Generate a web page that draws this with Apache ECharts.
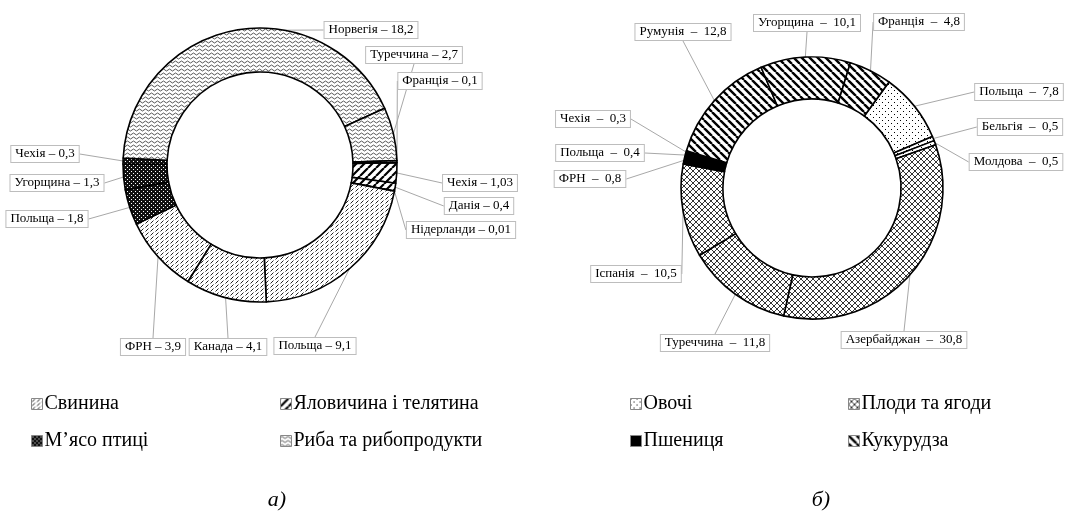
<!DOCTYPE html>
<html>
<head>
<meta charset="utf-8">
<title>Географічна структура</title>
<script src="https://cdn.jsdelivr.net/npm/echarts@6/dist/echarts.min.js"></script>
<style>
  html, body { margin: 0; padding: 0; background: #fff; }
  #chart { width: 1073px; height: 511px; }
</style>
</head>
<body>
<div id="chart"></div>
<script>
// а) м'ясо та риба, б) рослинна продукція
var countriesA = ['Чехія', 'Данія', 'Нідерланди', 'Польща', 'Канада', 'ФРН', 'Польща', 'Угорщина', 'Чехія', 'Норвегія', 'Туреччина', 'Франція'];
var valuesA = [1.03, 0.4, 0.01, 9.1, 4.1, 3.9, 1.8, 1.3, 0.3, 18.2, 2.7, 0.1];
var groupsA = ['Яловичина і телятина', 'Яловичина і телятина', 'Яловичина і телятина',
  'Свинина', 'Свинина', 'Свинина',
  'М’ясо птиці', 'М’ясо птиці', 'М’ясо птиці',
  'Риба та рибопродукти', 'Риба та рибопродукти', 'Риба та рибопродукти'];

var countriesB = ['Польща', 'Бельгія', 'Молдова', 'Азербайджан', 'Туреччина', 'Іспанія', 'ФРН', 'Польща', 'Чехія', 'Румунія', 'Угорщина', 'Франція'];
var valuesB = [7.8, 0.5, 0.5, 30.8, 11.8, 10.5, 0.8, 0.4, 0.3, 12.8, 10.1, 4.8];
var groupsB = ['Овочі', 'Овочі', 'Овочі',
  'Плоди та ягоди', 'Плоди та ягоди', 'Плоди та ягоди',
  'Пшениця', 'Пшениця', 'Пшениця',
  'Кукурудза', 'Кукурудза', 'Кукурудза'];

var legendCols = [
  ['Свинина', 'М’ясо птиці'],
  ['Яловичина і телятина', 'Риба та рибопродукти'],
  ['Овочі', 'Пшениця'],
  ['Плоди та ягоди', 'Кукурудза']
];
var captions = ['а)', 'б)'];

// положення підписів (центр рамки)
var labelPosA = [[480, 183], [479, 206], [461, 230], [315, 346], [228, 347], [153, 347],
  [47, 219], [57, 183], [45, 154], [371, 30], [414, 55], [440, 81]];
var labelPosB = [[1019, 92], [1020, 127], [1016, 162], [904, 340], [715, 343], [636, 274],
  [590, 179], [600, 153], [593, 119], [683, 32], [807, 23], [919, 22]];

// штрихування
function tile(w, h, draw) {
  var c = document.createElement('canvas');
  c.width = w; c.height = h;
  var ctx = c.getContext('2d');
  ctx.fillStyle = '#fff';
  ctx.fillRect(0, 0, w, h);
  draw(ctx, w, h);
  return { image: c, repeat: 'repeat' };
}
function diag(ctx, s, up) {
  ctx.beginPath();
  for (var k = -s; k <= s; k += s) {
    if (up) { ctx.moveTo(k, s); ctx.lineTo(k + s, 0); }
    else { ctx.moveTo(k, 0); ctx.lineTo(k + s, s); }
  }
  ctx.stroke();
}
var patterns = {
  'Свинина': tile(5, 4, function (ctx) {
    ctx.strokeStyle = '#222'; ctx.lineWidth = 1;
    ctx.beginPath(); ctx.moveTo(0.5, 3.5); ctx.lineTo(3.5, 0.5); ctx.stroke();
  }),
  'Яловичина і телятина': tile(8, 8, function (ctx) {
    ctx.strokeStyle = '#000'; ctx.lineWidth = 2.2; diag(ctx, 8, true);
  }),
  'М’ясо птиці': tile(4, 4, function (ctx) {
    ctx.fillStyle = '#111'; ctx.fillRect(0, 0, 4, 4);
    ctx.fillStyle = '#fff'; ctx.fillRect(1, 1, 1, 1); ctx.fillRect(3, 3, 1, 1);
  }),
  'Риба та рибопродукти': tile(6, 4, function (ctx) {
    ctx.strokeStyle = '#444'; ctx.lineWidth = 0.9;
    ctx.beginPath(); ctx.moveTo(0, 2);
    ctx.quadraticCurveTo(1.5, 0, 3, 2); ctx.quadraticCurveTo(4.5, 4, 6, 2);
    ctx.stroke();
  }),
  'Овочі': tile(6, 6, function (ctx) {
    ctx.fillStyle = '#000'; ctx.fillRect(0, 0, 1, 1); ctx.fillRect(3, 3, 1, 1);
  }),
  'Плоди та ягоди': tile(6, 6, function (ctx) {
    ctx.strokeStyle = '#000'; ctx.lineWidth = 0.8; diag(ctx, 6, true); diag(ctx, 6, false);
  }),
  'Пшениця': '#000',
  'Кукурудза': tile(8, 8, function (ctx) {
    ctx.strokeStyle = '#000'; ctx.lineWidth = 2.4; diag(ctx, 8, false);
  })
};

function fmt(v) { return String(v).replace('.', ','); }

function buildData(groups, values) {
  return values.map(function (v, i) {
    return { name: groups[i], value: v, itemStyle: { color: patterns[groups[i]] } };
  });
}

function donut(countries, values, groups, pos, center, radius, startAngle, sep) {
  return {
    type: 'pie',
    center: center,
    radius: radius,
    startAngle: startAngle,
    clockwise: true,
    avoidLabelOverlap: false,
    animation: false,
    silent: true,
    itemStyle: { borderColor: '#000', borderWidth: 1.6 },
    label: {
      show: true,
      position: 'outside',
      formatter: function (p) { return countries[p.dataIndex] + sep + fmt(values[p.dataIndex]); },
      fontFamily: 'Liberation Serif',
      fontSize: 13,
      color: '#000',
      backgroundColor: '#fff',
      borderColor: '#bdbdbd',
      borderWidth: 1,
      padding: [2, 4, 1, 4]
    },
    labelLine: { show: true, length: 8, length2: 0, lineStyle: { color: '#a8a8a8', width: 1 } },
    labelLayout: function (p) {
      var q = pos[p.dataIndex];
      return { x: q[0], y: q[1], align: 'center', verticalAlign: 'middle' };
    },
    data: buildData(groups, values)
  };
}

var lefts = [26, 275, 625, 843];
var myChart = echarts.init(document.getElementById('chart'));
var option = {
  backgroundColor: '#fff',
  animation: false,
  legend: legendCols.map(function (col, i) {
    return {
      left: lefts[i],
      top: 389,
      orient: 'vertical',
      data: col,
      icon: 'rect',
      itemWidth: 11,
      itemHeight: 11,
      itemGap: 17,
      selectedMode: false,
      itemStyle: { borderColor: '#888', borderWidth: 1 },
      textStyle: { fontFamily: 'Liberation Serif', fontSize: 20, color: '#000', padding: [0, 0, 0, -3] }
    };
  }),
  graphic: [
    { type: 'text', x: 277, y: 500, style: { text: captions[0], font: 'italic 22px "Liberation Serif"', fill: '#000', align: 'center', verticalAlign: 'middle' } },
    { type: 'text', x: 821, y: 500, style: { text: captions[1], font: 'italic 22px "Liberation Serif"', fill: '#000', align: 'center', verticalAlign: 'middle' } }
  ],
  series: [
    donut(countriesA, valuesA, groupsA, labelPosA, [260, 165], [93, 137], 1, ' – '),
    donut(countriesB, valuesB, groupsB, labelPosB, [812, 188], [89, 131], 54, '  –  ')
  ]
};
myChart.setOption(option);
</script>
</body>
</html>
